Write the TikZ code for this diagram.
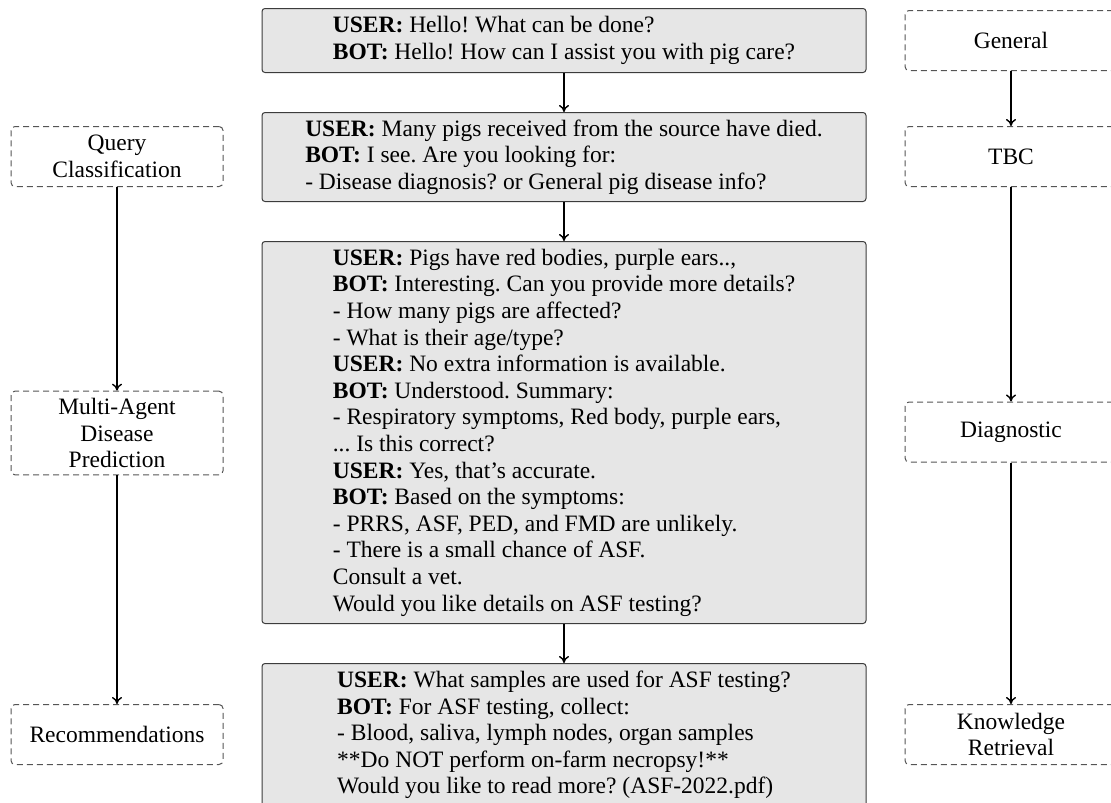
\documentclass[tikz,border=0pt]{standalone}
\usepackage{fontspec}
\setmainfont{Liberation Serif}
\usetikzlibrary{arrows.meta}
\definecolor{boxfill}{HTML}{E6E6E6}
\definecolor{boxline}{HTML}{3C3C3C}
\definecolor{dashline}{HTML}{555555}
\tikzset{
  chatbox/.style={draw=boxline, line width=1pt, fill=boxfill, rounded corners=3pt,
    minimum width=604pt, align=left, anchor=north, inner xsep=0pt,
    font={\fontsize{23.5}{26.6}\selectfont\lineskiplimit=-100pt\frenchspacing}},
  stagebox/.style={draw=dashline, line width=1pt, dash pattern=on 6pt off 4pt,
    rounded corners=4pt, fill=white, minimum width=212pt, minimum height=60pt,
    align=center, inner sep=7pt,
    font={\fontsize{23.5}{26.6}\selectfont\lineskiplimit=-100pt}},
  flow/.style={-{To[length=7pt,width=10pt]}, line width=1.4pt, black},
}
\begin{document}
\begin{tikzpicture}[x=1pt,y=-1pt]
\useasboundingbox (0,0) rectangle (1111,803);
\clip (0,0) rectangle (1111,803);
% middle column
\node[chatbox, minimum height=64pt] (c1) at (564,8)
  {\textbf{USER:} Hello! What can be done?\\
   \textbf{BOT:} Hello! How can I assist you with pig care?};
\node[chatbox, minimum height=89pt] (c2) at (564,112)
  {\textbf{USER:} Many pigs received from the source have died.\\
   \textbf{BOT:} I see. Are you looking for:\\
   - Disease diagnosis? or General pig disease info?};
\node[chatbox, minimum height=382pt] (c3) at (564,241)
  {\textbf{USER:} Pigs have red bodies, purple ears..,\\
   \textbf{BOT:} Interesting. Can you provide more details?\\
   - How many pigs are affected?\\
   - What is their age/type?\\
   \textbf{USER:} No extra information is available.\\
   \textbf{BOT:} Understood. Summary:\\
   - Respiratory symptoms, Red body, purple ears,\\
   ... Is this correct?\\
   \textbf{USER:} Yes, that’s accurate.\\
   \textbf{BOT:} Based on the symptoms:\\
   - PRRS, ASF, PED, and FMD are unlikely.\\
   - There is a small chance of ASF.\\
   Consult a vet.\\
   Would you like details on ASF testing?};
\node[chatbox, minimum height=143pt] (c4) at (564,663)
  {\textbf{USER:} What samples are used for ASF testing?\\
   \textbf{BOT:} For ASF testing, collect:\\
   - Blood, saliva, lymph nodes, organ samples\\
   **Do NOT perform on-farm necropsy!**\\
   Would you like to read more? (ASF-2022.pdf)};
% left column
\node[stagebox] (q) at (117,156.5) {Query\\Classification};
\node[stagebox] (ma) at (117,433) {Multi-Agent\\Disease\\Prediction};
\node[stagebox] (rec) at (117,734.5) {Recommendations};
% right column
\node[stagebox] (gen) at (1011,40.5) {General};
\node[stagebox] (tbc) at (1011,156.5) {TBC};
\node[stagebox] (diag) at (1011,432) {Diagnostic};
\node[stagebox] (kr) at (1011,734.5) {Knowledge\\Retrieval};
% connectors
\draw[flow] (c1) -- (c2);
\draw[flow] (c2) -- (c3);
\draw[flow] (c3) -- (c4);
\draw[flow] (q) -- (ma);
\draw[flow] (ma) -- (rec);
\draw[flow] (gen) -- (tbc);
\draw[flow] (tbc) -- (diag);
\draw[flow] (diag) -- (kr);
\end{tikzpicture}
\end{document}
